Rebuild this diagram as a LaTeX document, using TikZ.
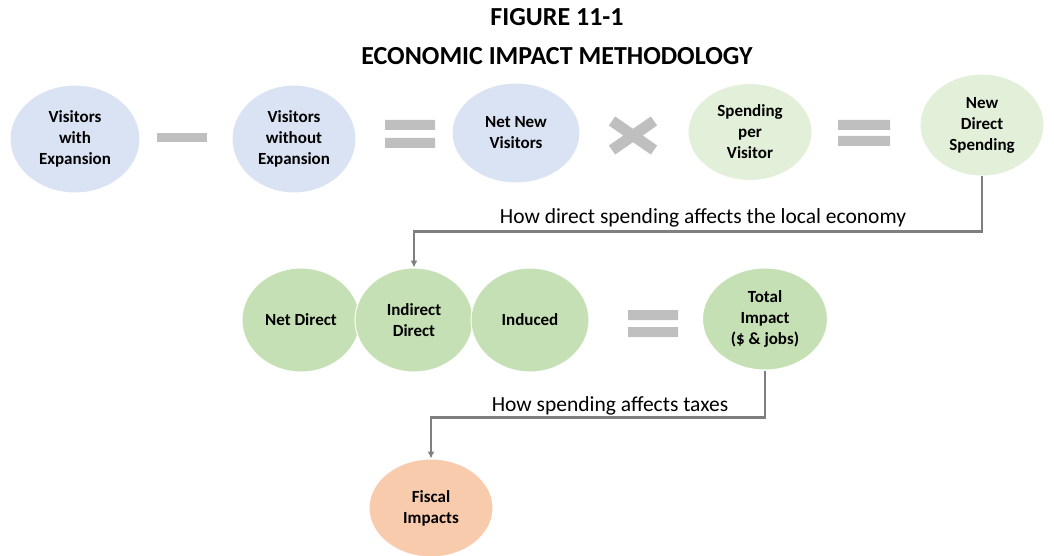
\documentclass[tikz,border=0pt]{standalone}
\usepackage{fontspec}
\setmainfont{Carlito}
\usetikzlibrary{shapes.geometric,arrows.meta}
\definecolor{visblue}{HTML}{DAE3F3}
\definecolor{spgreen}{HTML}{E2F0D9}
\definecolor{impgreen}{HTML}{C5E0B4}
\definecolor{fiscorange}{HTML}{F8CBAD}
\definecolor{opgray}{HTML}{BFBFBF}
\definecolor{lngray}{HTML}{7F7F7F}

\begin{document}
\begin{tikzpicture}[x=1pt,y=-1pt,>=latex,
  oval/.style={ellipse,draw=white,line width=1pt,inner sep=0pt,align=center,
    minimum width=124pt,minimum height=104pt,
    font=\fontsize{17}{21}\selectfont\bfseries},
  conn/.style={draw=lngray,line width=2.5pt,->,>={Latex[length=7pt,width=7pt]}},
  lbl/.style={font=\fontsize{21.5}{24}\selectfont}]
  \useasboundingbox (0,0) rectangle (1054,556);
  % title
  \node[font=\fontsize{26}{39}\selectfont\bfseries,align=center] (title) at (557,37)
    {FIGURE 11-1\\ECONOMIC IMPACT METHODOLOGY};
  % first row
  \node[oval,fill=visblue,minimum width=130pt,minimum height=108pt] (vwe) at (75,139) {Visitors\\with\\Expansion};
  \node[oval,fill=visblue,minimum height=108pt] (vwo) at (294,139) {Visitors\\without\\Expansion};
  \node[oval,fill=visblue,minimum width=128pt,minimum height=100pt] (nnv) at (516,133) {Net New\\Visitors};
  \node[oval,fill=spgreen,minimum height=97pt] (spv) at (750,132) {Spending\\per\\Visitor};
  \node[oval,fill=spgreen,minimum height=102pt] (nds) at (982,125) {New\\Direct\\Spending};
  \fill[opgray] (157,133) rectangle (207,142);
  \fill[opgray] (385,120) rectangle (435,130) (385,138) rectangle (435,148);
  \draw[opgray,line width=11pt] (612,121) -- (654,150) (612,150) -- (654,121);
  \fill[opgray] (838,120) rectangle (890,130) (838,136) rectangle (890,146);
  % second row
  \node[oval,fill=impgreen,minimum width=118pt] (ndir) at (301,320) {Net Direct};
  \node[oval,fill=impgreen,minimum width=118pt] (ind) at (414,320) {Indirect\\Direct};
  \node[oval,fill=impgreen,minimum width=118pt] (indu) at (530,320) {Induced};
  \fill[opgray] (628,310) rectangle (678,320) (628,327) rectangle (678,337);
  \node[oval,fill=impgreen,minimum width=125pt,minimum height=102pt] (tot) at (765,319) {Total\\Impact\\(\$ \& jobs)};
  % fiscal
  \node[oval,fill=fiscorange,minimum height=98pt] (fis) at (431,508) {Fiscal\\Impacts};
  % connectors
  \draw[conn] (nds.south) -- ++(0,55) -| (ind.north);
  \node[lbl] (lbl1) at (703,218) {How direct spending affects the local economy};
  \draw[conn] (tot.south) -- ++(0,47) -| (fis.north);
  \node[lbl] (lbl2) at (610,406) {How spending affects taxes};
\end{tikzpicture}
\end{document}
